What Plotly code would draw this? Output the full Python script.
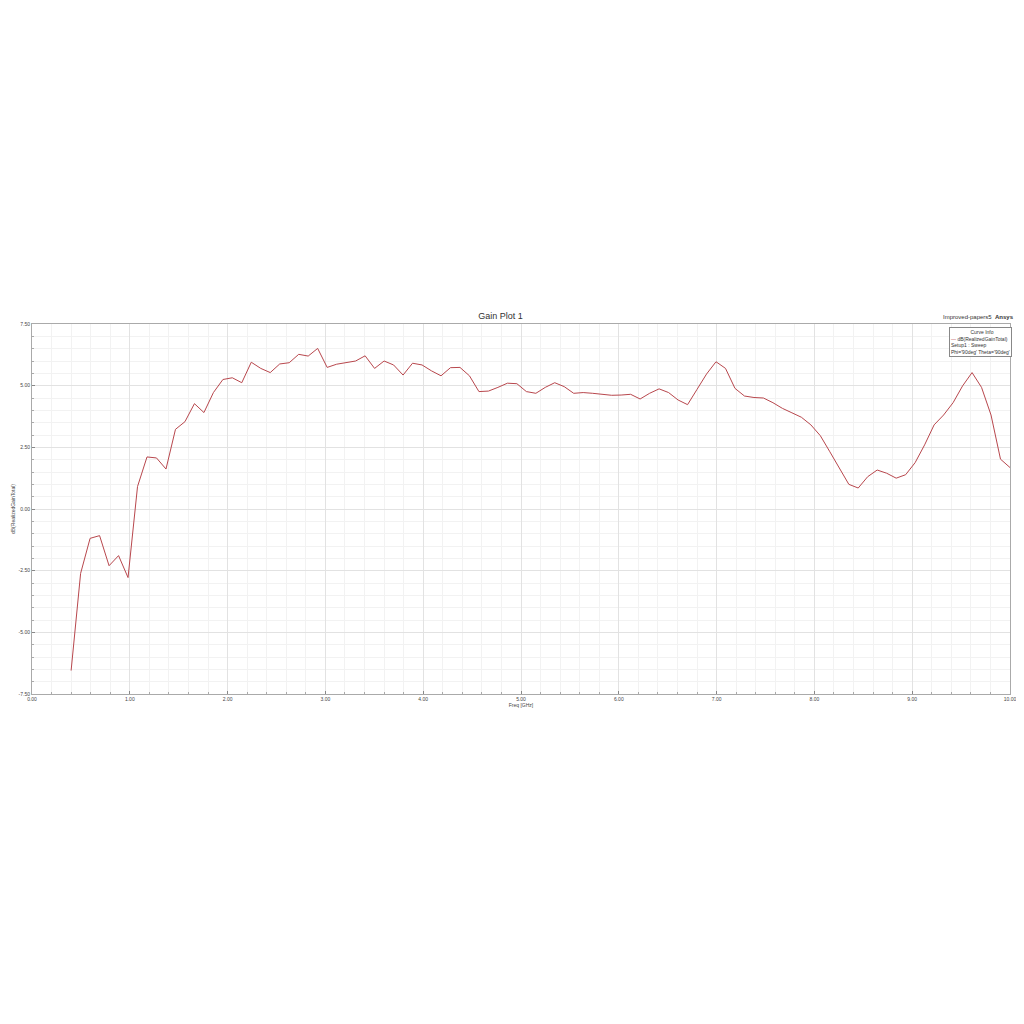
import plotly.graph_objs as go

# frequency sweep [GHz] and realized gain [dB]
freq = [0.400, 0.497, 0.594, 0.691, 0.788, 0.885, 0.982, 1.079, 1.176, 1.273,
        1.370, 1.467, 1.564, 1.661, 1.758, 1.855, 1.952, 2.048, 2.145, 2.242,
        2.339, 2.436, 2.533, 2.630, 2.727, 2.824, 2.921, 3.018, 3.115, 3.212,
        3.309, 3.406, 3.503, 3.600, 3.697, 3.794, 3.891, 3.988, 4.085, 4.182,
        4.279, 4.376, 4.473, 4.570, 4.667, 4.764, 4.861, 4.958, 5.055, 5.152,
        5.248, 5.345, 5.442, 5.539, 5.636, 5.733, 5.830, 5.927, 6.024, 6.121,
        6.218, 6.315, 6.412, 6.509, 6.606, 6.703, 6.800, 6.897, 6.994, 7.091,
        7.188, 7.285, 7.382, 7.479, 7.576, 7.673, 7.770, 7.867, 7.964, 8.061,
        8.158, 8.255, 8.352, 8.448, 8.545, 8.642, 8.739, 8.836, 8.933, 9.030,
        9.127, 9.224, 9.321, 9.418, 9.515, 9.612, 9.709, 9.806, 9.903, 10.000]

gain = [-6.55, -2.61, -1.19, -1.08, -2.30, -1.89, -2.78, 0.91, 2.11, 2.07,
        1.62, 3.23, 3.54, 4.27, 3.91, 4.72, 5.25, 5.32, 5.12, 5.95,
        5.70, 5.53, 5.88, 5.93, 6.27, 6.20, 6.51, 5.74, 5.87, 5.95,
        6.00, 6.21, 5.70, 6.00, 5.84, 5.43, 5.91, 5.84, 5.60, 5.40,
        5.73, 5.74, 5.40, 4.76, 4.78, 4.93, 5.10, 5.08, 4.76, 4.69,
        4.93, 5.12, 4.96, 4.69, 4.72, 4.69, 4.65, 4.61, 4.62, 4.65,
        4.46, 4.69, 4.87, 4.72, 4.42, 4.23, 4.85, 5.47, 5.97, 5.70,
        4.89, 4.58, 4.52, 4.50, 4.31, 4.08, 3.90, 3.72, 3.41, 2.97,
        2.32, 1.65, 1.00, 0.85, 1.31, 1.58, 1.45, 1.25, 1.39, 1.88,
        2.60, 3.41, 3.81, 4.31, 4.99, 5.53, 4.93, 3.81, 2.02, 1.68]

x_ticks = [0, 1, 2, 3, 4, 5, 6, 7, 8, 9, 10]
y_ticks = [7.5, 5.0, 2.5, 0.0, -2.5, -5.0, -7.5]

fig = go.Figure()
fig.add_trace(go.Scatter(x=freq, y=gain, mode='lines',
                         line=dict(color='#b8474d', width=1.0),
                         showlegend=False))

fig.update_layout(
    width=1024, height=1024,
    paper_bgcolor='white', plot_bgcolor='white',
    margin=dict(l=24, r=22, t=316, b=338),
    font=dict(family='Liberation Sans, Arial, sans-serif', color='#444'),
    title=dict(text='Gain Plot 1', x=0.481, xanchor='center', y=0.699, yanchor='middle',
               font=dict(size=9, color='#333')),
)

fig.update_xaxes(
    range=[0, 10], tickvals=x_ticks, ticktext=['%.2f' % v for v in x_ticks],
    tickfont=dict(size=5), showgrid=True, gridcolor='#e2e2e2', gridwidth=1,
    showline=True, linecolor='#aaa', linewidth=1, mirror=True, automargin=False,
    ticks='inside', ticklen=3, tickcolor='#888', zeroline=False,
    minor=dict(dtick=0.2, showgrid=True, gridcolor='#f2f2f2', ticks='inside',
               ticklen=2, tickcolor='#aaa'),
    title=dict(text='Freq [GHz]', font=dict(size=5), standoff=2),
)
fig.update_yaxes(
    range=[-7.5, 7.5], tickvals=y_ticks, ticktext=['%.2f' % v for v in y_ticks],
    tickfont=dict(size=5), showgrid=True, gridcolor='#e2e2e2', gridwidth=1,
    showline=True, linecolor='#aaa', linewidth=1, mirror=True, automargin=False,
    ticks='inside', ticklen=3, tickcolor='#888', zeroline=False,
    minor=dict(dtick=0.5, showgrid=True, gridcolor='#f2f2f2', ticks='inside',
               ticklen=2, tickcolor='#aaa'),
    title=dict(text='dB(RealizedGainTotal)', font=dict(size=5), standoff=2),
)

# header texts at top right
fig.add_annotation(x=1.006, y=1.0, xref='paper', yref='paper', xanchor='right', yanchor='bottom',
                   yshift=2, showarrow=False,
                   text='Improved-papers5  <b>Ansys</b>', font=dict(size=6, color='#333'))

# curve info box
fig.add_annotation(x=1.002, y=0.993, xref='paper', yref='paper', xanchor='right', yanchor='top',
                   showarrow=False, align='left', bordercolor='#888', borderwidth=1,
                   borderpad=1, bgcolor='white',
                   text=('&nbsp;&nbsp;&nbsp;&nbsp;&nbsp;&nbsp;&nbsp;&nbsp;&nbsp;&nbsp;&nbsp;&nbsp;&nbsp;&nbsp;Curve Info<br>'
                         '<span style="color:#b8474d">—</span> dB(RealizedGainTotal)<br>'
                         'Setup1 : Sweep<br>'
                         "Phi='90deg' Theta='90deg'"),
                   font=dict(size=5, color='#333'))

fig.write_html("out.html")
